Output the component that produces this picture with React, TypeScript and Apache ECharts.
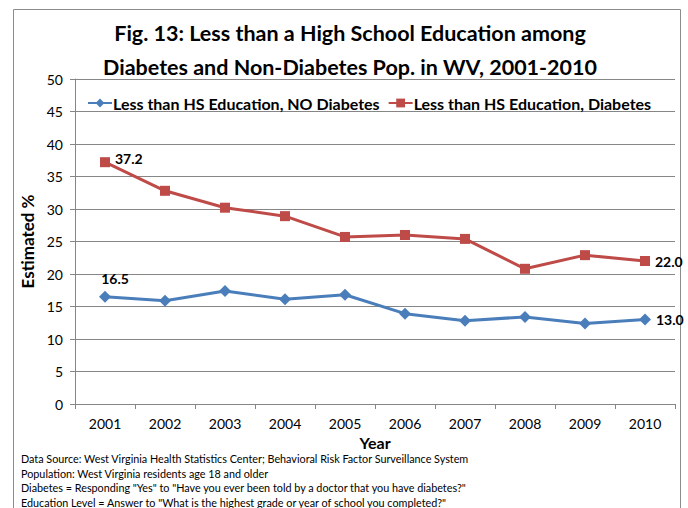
import React, { useEffect, useRef } from "react";
import * as echarts from "echarts";

const years = ["2001", "2002", "2003", "2004", "2005", "2006", "2007", "2008", "2009", "2010"];
const noDiabetes = [16.5, 15.9, 17.4, 16.1, 16.8, 13.9, 12.8, 13.4, 12.4, 13.0];
const diabetes = [37.2, 32.8, 30.2, 28.9, 25.7, 26.0, 25.4, 20.8, 22.9, 22.0];
const seriesNames = ["Less than HS Education, NO Diabetes", "Less than HS Education, Diabetes"];
const titleLines = [
  "Fig. 13: Less than a High School Education among",
  "Diabetes and Non-Diabetes Pop. in WV, 2001-2010",
];
const footnotes = [
  "Data Source: West Virginia Health Statistics Center; Behavioral Risk Factor Surveillance System",
  "Population: West Virginia residents age 18 and older",
  "Diabetes = Responding \"Yes\" to \"Have you ever been told by a doctor that you have diabetes?\"",
  "Education Level = Answer to \"What is the highest grade or year of school you completed?\"",
];

const FONT = "Lato, 'Open Sans', sans-serif";

function withEndLabels(values: number[], firstPos: string, firstOffset: number[]) {
  return values.map((v, i) => {
    if (i === 0) {
      return { value: v, label: { show: true, position: firstPos, offset: firstOffset } };
    }
    if (i === values.length - 1) {
      return { value: v, label: { show: true, position: "right", offset: [0, 0] } };
    }
    return v;
  });
}

export default function App() {
  const ref = useRef<HTMLDivElement>(null);
  useEffect(() => {
    if (!ref.current) return;
    const chart = echarts.init(ref.current, undefined, { renderer: "svg" });
    const labelStyle = {
      fontFamily: FONT,
      fontSize: 14,
      fontWeight: "bold",
      color: "#000",
      formatter: (p: any) => Number(p.value).toFixed(1),
    };
    chart.setOption({
      animation: false,
      backgroundColor: "#fff",
      textStyle: { fontFamily: FONT },
      title: {
        text: titleLines.join("\n"),
        left: 345,
        top: 11,
        textAlign: "center",
        textStyle: { fontFamily: FONT, fontSize: 21.5, fontWeight: "bold", color: "#000", lineHeight: 34 },
      },
      legend: {
        top: 90,
        left: 82,
        itemWidth: 24,
        itemHeight: 11,
        itemGap: 8,
        textStyle: { fontFamily: FONT, fontSize: 16, fontWeight: "bold", color: "#000", padding: [0, 0, 0, -4] },
        data: seriesNames,
      },
      grid: { left: 75, right: 13, top: 79, bottom: 104, containLabel: false },
      xAxis: {
        type: "category",
        data: years,
        boundaryGap: true,
        name: "Year",
        nameLocation: "middle",
        nameGap: 20,
        nameTextStyle: { fontFamily: FONT, fontSize: 16, fontWeight: "bold", color: "#000", lineHeight: 16 },
        axisLine: { lineStyle: { color: "#868686", width: 1 } },
        axisTick: { show: true, length: 5, interval: 0, lineStyle: { color: "#868686" } },
        axisLabel: { fontFamily: FONT, fontSize: 14, color: "#000", margin: 12 },
      },
      yAxis: {
        type: "value",
        min: 0,
        max: 50,
        interval: 5,
        name: "Estimated %",
        nameLocation: "middle",
        nameGap: 38,
        nameRotate: 90,
        nameTextStyle: { fontFamily: FONT, fontSize: 17, fontWeight: "bold", color: "#000" },
        axisLine: { show: true, lineStyle: { color: "#868686", width: 1 } },
        axisTick: { show: true, length: 5, lineStyle: { color: "#868686" } },
        axisLabel: { fontFamily: FONT, fontSize: 14, color: "#000", margin: 12 },
        splitLine: { show: true, lineStyle: { color: "#868686", width: 1 } },
      },
      series: [
        {
          name: seriesNames[0],
          type: "line",
          data: withEndLabels(noDiabetes, "top", [10, 0]),
          symbol: "diamond",
          symbolSize: 12,
          color: "#4A7EBB",
          lineStyle: { width: 3, color: "#4A7EBB" },
          itemStyle: { color: "#4A7EBB" },
          label: { show: false, ...labelStyle },
          z: 3,
        },
        {
          name: seriesNames[1],
          type: "line",
          data: withEndLabels(diabetes, "right", [0, -4]),
          symbol: "rect",
          symbolSize: 10,
          color: "#BE4B48",
          lineStyle: { width: 3, color: "#BE4B48" },
          itemStyle: { color: "#BE4B48" },
          label: { show: false, ...labelStyle },
          z: 3,
        },
      ],
      graphic: [
        {
          type: "rect",
          shape: { x: 13.5, y: 9.5, width: 667, height: 520 },
          style: { fill: "none", stroke: "#8c8c8c", lineWidth: 1 },
          silent: true,
        },
        ...footnotes.map((t, i) => ({
          type: "text",
          left: 21,
          top: 453 + i * 14.5,
          style: { text: t, fontFamily: FONT, fontSize: 10.8, fill: "#000" },
          silent: true,
        })),
      ],
    });
    return () => chart.dispose();
  }, []);
  return (
    <div
      ref={ref}
      style={{ position: "fixed", left: 0, top: 0, width: 688, height: 508, background: "#fff" }}
    />
  );
}
